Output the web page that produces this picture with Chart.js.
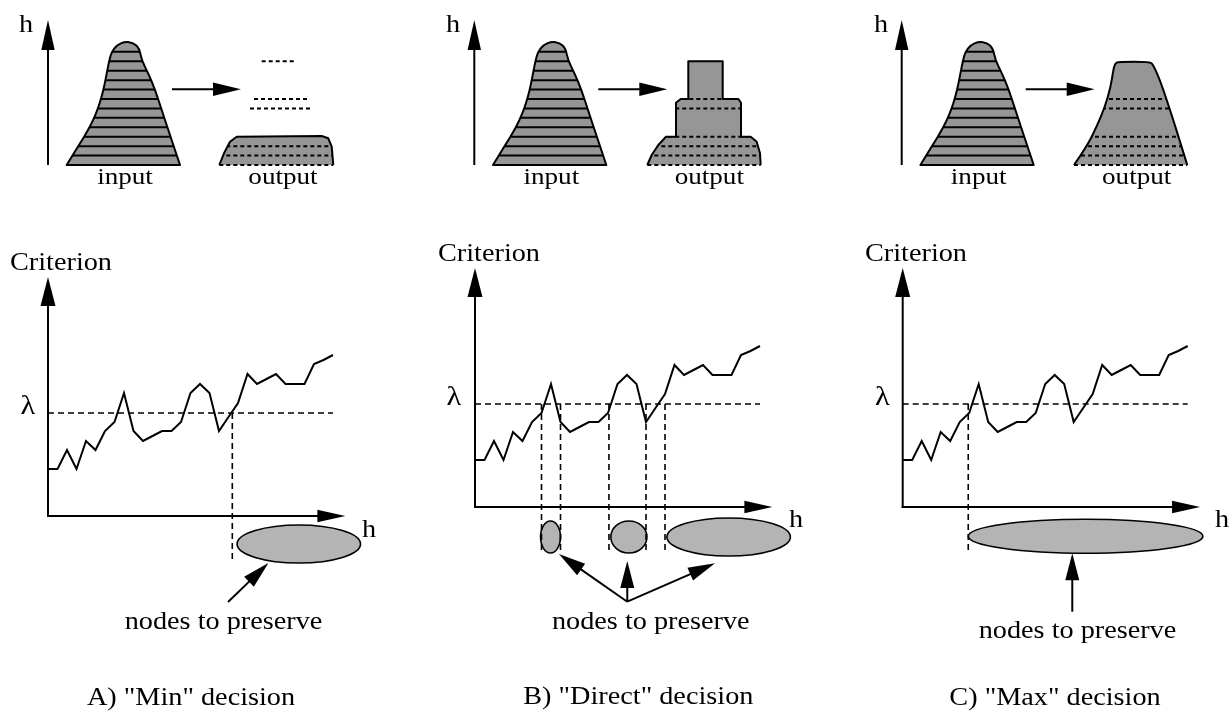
<!DOCTYPE html>
<html><head><meta charset="utf-8">
<script src="https://cdn.jsdelivr.net/npm/chart.js@4.4.1/dist/chart.umd.min.js"></script>
<style>html,body{margin:0;padding:0;background:#fff;overflow:hidden}canvas{display:block}</style>
</head><body>
<canvas id="c" width="1231" height="711"></canvas>
<script>
// ---------------- DATA ----------------
const hIndex = [0,1,2,3,4,5,6,7,8,9,10,11,12,13,14,15,16,17,18,19,20,21,22,23,24,25,26,27,28,29,30];
const criterion = [47,47,66,47,75,66,85,94,123,85,75,80,85,85,94,123,132,123,85,99,113,142,132,137,142,132,132,132,152,156,161];
const lambda = 103;
const lambdaEnd = 30;
const axisTopCrit = 239;
const axisEndH = 31.3;
const dropEnd = -45;

const minCrossings = [19.4];
const directCrossings = [7.0, 9.0, 14.1, 18.0, 20.0];
const maxCrossings = [6.9];

const minRegionStart = [19.9];
const minRegionEnd = [32.9];
const directRegionStart = [6.9, 14.3, 20.2];
const directRegionEnd = [9.0, 18.1, 33.2];
const maxRegionStart = [6.9];
const maxRegionEnd = [31.6];

// input histogram outline (width position, h level)
const inputX = [18.7,25,32,39,45.3,50,53.7,56.5,58.7,61.3,63.7,68.7,77,85.3,91.3,93.7,100.3,107,113.7,120.3,127,132];
const inputH = [0,1.1,2.3,3.5,4.77,6.0,7.25,8.5,9.72,11.1,12.0,12.7,13.08,12.97,12.37,11.1,9.72,8.0,5.83,3.71,1.59,0];
const inputLevels = [1,2,3,4,5,6,7,8,9,10,11,12];

const minOutX = [171.3,176,182,188.7,273.7,280.3,283.7,285.3];
const minOutH = [0,1.24,2.47,3.0,3.07,2.83,1.94,0];
const minKeptLevels = [0,1,2];
const minGhostLevels = [6,7,11];
const minGhostFrom = [202,206,213.7];
const minGhostTo = [262.7,260.3,247];

const directOutX = [173,177.4,184,191.7,201.7,201.7,206.4,214,214,248.4,248.4,264,266.7,266.7,276.4,282.4,285.7,286.4];
const directOutH = [0,1.06,2.12,3.0,3.0,6.6,7.0,7.0,11.0,11.0,7.0,7.0,6.6,3.0,3.0,2.47,1.24,0];
const directKeptLevels = [0,1,2,3,6,7];

const maxOutX = [172.3,185,195,203.3,209,211.6,213.3,216.6,248.3,251.6,258.3,265,271.6,278.3,285.6];
const maxOutH = [0,1.94,4.06,6.18,8.3,10.07,10.78,10.95,10.95,10.6,9.0,6.9,4.77,2.47,0];
const maxKeptLevels = [0,1,2,3,6,7,11];

const titles = ['A) "Min" decision', 'B) "Direct" decision', 'C) "Max" decision'];

// ---------------- LAYOUT ----------------
const W = 1231, H = 711;
function linX(px0, ppu){ return {type:'linear', display:false, min:-px0/ppu, max:(W-px0)/ppu}; }
function linY(py0, ppu){ return {type:'linear', display:false, min:-(H-py0)/ppu, max:py0/ppu}; }

const panels = [
  {x:'xA', y:'yA', tx:'xTA', cross:minCrossings, rs:minRegionStart, re:minRegionEnd, rcy:-28, rry:[19],
   outX:minOutX, outH:minOutH, kept:minKeptLevels, ghosts:true, smoothOut:false,
   arrows:[[18.95,-86,23.2,-47]],
   lab:{h:26, crit:10, critB:270, lam:28, lamB:414, hx:362, hxB:537, nodes:223.5, nodesB:629, title:191, titleB:705}},
  {x:'xB', y:'yBC', tx:'xTB', cross:directCrossings, rs:directRegionStart, re:directRegionEnd, rcy:-30, rry:[16,16,19],
   outX:directOutX, outH:directOutH, kept:directKeptLevels, ghosts:false, smoothOut:false,
   arrows:[[16.03,-94.7,8.84,-47],[16.03,-94.7,16.03,-54],[16.03,-94.7,25.26,-56.3]],
   lab:{h:453, crit:438, critB:261, lam:454, lamB:405, hx:789, hxB:527, nodes:650.8, nodesB:629, title:638.3, titleB:704}},
  {x:'xC', y:'yBC', tx:'xTC', cross:maxCrossings, rs:maxRegionStart, re:maxRegionEnd, rcy:-29.3, rry:[17],
   outX:maxOutX, outH:maxOutH, kept:maxKeptLevels, ghosts:false, smoothOut:true,
   arrows:[[17.85,-104.7,17.85,-46.3]],
   lab:{h:881, crit:865, critB:261, lam:882.5, lamB:405, hx:1215, hxB:527, nodes:1077.5, nodesB:638, title:1055, titleB:705}}
];

// ---------------- DATASETS ----------------
const datasets = [];
panels.forEach(p => {
  datasets.push({data: hIndex.map((h,i)=>({x:h, y:criterion[i]})), xAxisID:p.x, yAxisID:p.y,
    borderColor:'#000', borderWidth:2, pointRadius:0, tension:0, fill:false});
  datasets.push({data:[{x:0,y:lambda},{x:lambdaEnd,y:lambda}], xAxisID:p.x, yAxisID:p.y,
    borderColor:'#000', borderWidth:1.6, borderDash:[6,4], pointRadius:0, fill:false});
  const drops = [];
  p.cross.forEach(c => { drops.push({x:c,y:lambda},{x:c,y:dropEnd},{x:c,y:null}); });
  datasets.push({data:drops, xAxisID:p.x, yAxisID:p.y, borderColor:'#000', borderWidth:1.6,
    borderDash:[6,4], pointRadius:0, spanGaps:false, fill:false});
});

// ---------------- DRAW HELPERS ----------------
function arrow(ctx,x1,y1,x2,y2,len,half,lw){
  len = len||28; half = half||7; lw = lw||2;
  const dx=x2-x1, dy=y2-y1, L=Math.hypot(dx,dy), ux=dx/L, uy=dy/L;
  const bx=x2-ux*len, by=y2-uy*len;
  ctx.save(); ctx.setLineDash([]); ctx.strokeStyle='#000'; ctx.fillStyle='#000'; ctx.lineWidth=lw;
  ctx.beginPath(); ctx.moveTo(x1,y1); ctx.lineTo(bx+ux*2,by+uy*2); ctx.stroke();
  ctx.beginPath(); ctx.moveTo(x2,y2); ctx.lineTo(bx-uy*half,by+ux*half); ctx.lineTo(bx+uy*half,by-ux*half); ctx.closePath(); ctx.fill();
  ctx.restore();
}
function poly(ctx, xs, hs, sx, sy, close, smooth){
  const pts = xs.map((x,i)=>[sx.getPixelForValue(x), sy.getPixelForValue(hs[i])]);
  ctx.beginPath();
  ctx.moveTo(pts[0][0], pts[0][1]);
  if(smooth){
    for(let i=1;i<pts.length-1;i++){
      const mx=(pts[i][0]+pts[i+1][0])/2, my=(pts[i][1]+pts[i+1][1])/2;
      ctx.quadraticCurveTo(pts[i][0], pts[i][1], mx, my);
    }
    ctx.lineTo(pts[pts.length-1][0], pts[pts.length-1][1]);
  } else {
    for(let i=1;i<pts.length;i++) ctx.lineTo(pts[i][0], pts[i][1]);
  }
  if(close) ctx.closePath();
}
function text(ctx, s, x, y, size, align){
  ctx.save(); ctx.translate(x,y); ctx.scale(1.13,1);
  ctx.font = size+'px "Liberation Serif", "DejaVu Serif", serif';
  ctx.fillStyle='#000'; ctx.textAlign=align||'center'; ctx.textBaseline='alphabetic';
  ctx.fillText(s,0,0); ctx.restore();
}
function hline(ctx, sx, sy, x1, x2, h){
  const py = sy.getPixelForValue(h);
  ctx.beginPath(); ctx.moveTo(sx.getPixelForValue(x1),py); ctx.lineTo(sx.getPixelForValue(x2),py); ctx.stroke();
}

const diagram = {
  id:'diagram',
  beforeDatasetsDraw(chart){
    const ctx = chart.ctx, S = chart.scales;
    panels.forEach(p => {
      const sx=S[p.x], sy=S[p.y];
      p.rs.forEach((a,i)=>{
        const x1=sx.getPixelForValue(a), x2=sx.getPixelForValue(p.re[i]);
        const cy=sy.getPixelForValue(p.rcy);
        ctx.save(); ctx.beginPath();
        ctx.ellipse((x1+x2)/2, cy, (x2-x1)/2, p.rry[i], 0, 0, Math.PI*2);
        ctx.fillStyle='#b4b4b4'; ctx.fill(); ctx.lineWidth=1.6; ctx.strokeStyle='#000'; ctx.stroke(); ctx.restore();
      });
    });
  },
  afterDatasetsDraw(chart){
    const ctx = chart.ctx, S = chart.scales;
    const sy = S.yT;
    panels.forEach((p,k) => {
      const sx=S[p.x], scy=S[p.y], tx=S[p.tx];
      const ox=sx.getPixelForValue(0), oy=scy.getPixelForValue(0);
      arrow(ctx, ox, oy+1, ox, scy.getPixelForValue(axisTopCrit), 29, 7.5, 2);
      arrow(ctx, ox-1, oy, sx.getPixelForValue(axisEndH), oy, 28, 6.3, 2);
      p.arrows.forEach(a => arrow(ctx, sx.getPixelForValue(a[0]), scy.getPixelForValue(a[1]), sx.getPixelForValue(a[2]), scy.getPixelForValue(a[3]), 27, 7, 2));

      // top: h axis
      arrow(ctx, tx.getPixelForValue(0), sy.getPixelForValue(0), tx.getPixelForValue(0), sy.getPixelForValue(15.38), 30, 6.7, 2);
      // input histogram
      ctx.save();
      poly(ctx, inputX, inputH, tx, sy, true, true);
      ctx.fillStyle='#969696'; ctx.fill();
      ctx.clip();
      ctx.strokeStyle='#000'; ctx.lineWidth=2;
      inputLevels.forEach(l => hline(ctx, tx, sy, inputX[0], inputX[inputX.length-1], l));
      ctx.restore();
      ctx.save(); poly(ctx, inputX, inputH, tx, sy, true, true);
      ctx.strokeStyle='#000'; ctx.lineWidth=2; ctx.lineJoin='round'; ctx.stroke(); ctx.restore();
      // arrow input -> output
      arrow(ctx, tx.getPixelForValue(124), sy.getPixelForValue(8.03), tx.getPixelForValue(193), sy.getPixelForValue(8.03), 28, 6.7, 2);
      // output
      ctx.save();
      poly(ctx, p.outX, p.outH, tx, sy, true, p.smoothOut);
      ctx.fillStyle='#969696'; ctx.fill(); ctx.clip();
      ctx.strokeStyle='#000'; ctx.lineWidth=2; ctx.setLineDash([4,3]);
      p.kept.forEach(l => { if(l>0) hline(ctx, tx, sy, p.outX[0], p.outX[p.outX.length-1], l); });
      ctx.restore();
      ctx.save(); poly(ctx, p.outX, p.outH, tx, sy, false, p.smoothOut);
      ctx.strokeStyle='#000'; ctx.lineWidth=2; ctx.lineJoin='round'; ctx.stroke();
      ctx.setLineDash([4,3]);
      hline(ctx, tx, sy, p.outX[0], p.outX[p.outX.length-1], 0);
      if(p.ghosts){ minGhostLevels.forEach((l,i)=>hline(ctx, tx, sy, minGhostFrom[i], minGhostTo[i], l)); }
      ctx.restore();

      // texts
      const L = p.lab;
      text(ctx, 'h', L.h, 32, 25);
      text(ctx, 'input', tx.getPixelForValue(77), 183.5, 24);
      text(ctx, 'output', tx.getPixelForValue(235), 183.5, 24);
      text(ctx, 'Criterion', L.crit, L.critB, 25, 'left');
      text(ctx, '\u03BB', L.lam, L.lamB, 27);
      text(ctx, 'h', L.hx, L.hxB, 25, 'left');
      text(ctx, 'nodes to preserve', L.nodes, L.nodesB, 25);
      text(ctx, titles[k], L.title, L.titleB, 25);
    });
  }
};

new Chart(document.getElementById('c'), {
  type:'line',
  data:{datasets},
  options:{
    responsive:false, animation:false, devicePixelRatio:1,
    layout:{padding:0},
    plugins:{legend:{display:false}, tooltip:{enabled:false}, title:{display:false}},
    scales:{
      xA:linX(48,9.5), xB:linX(475,9.5), xC:linX(902.7,9.5),
      yA:linY(516,1), yBC:linY(507,1),
      xTA:linX(48,1), xTB:linX(474.3,1), xTC:linX(901.7,1),
      yT:linY(165,9.43)
    }
  },
  plugins:[diagram]
});
</script>
</body></html>
